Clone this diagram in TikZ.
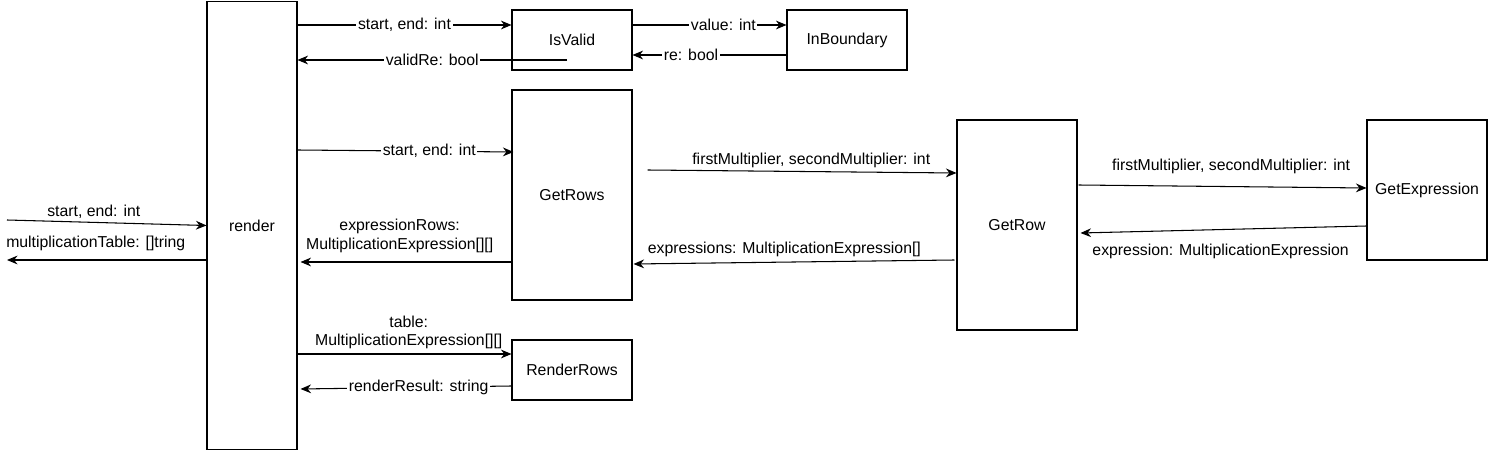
\documentclass[tikz,border=0pt]{standalone}
\usepackage{fontspec}
\setmainfont{Liberation Sans}
\usetikzlibrary{arrows.meta,calc}
\begin{document}
\begin{tikzpicture}[x=0.02cm,y=-0.02cm,
  box/.style={draw,line width=0.6pt,minimum width=2.4cm,minimum height=1.2cm,inner sep=0pt,font=\fontsize{9}{10.5}\selectfont},
  flow/.style={line width=0.6pt,-{Stealth[length=6pt,width=5pt]}},
  lbl/.style={font=\fontsize{9}{10.5}\selectfont,inner sep=1pt,align=center}]
\useasboundingbox (0,0) rectangle (1488,452);
\node[box,minimum width=1.8cm,minimum height=8.98cm] (render) at (252,225.5) {render};
\node[box] (IsValid) at (572,40) {IsValid};
\node[box] (InBoundary) at (847,40) {InBoundary};
\node[box,minimum height=4.2cm] (GetRows) at (572,195) {GetRows};
\node[box] (RenderRows) at (572,370) {RenderRows};
\node[box,minimum height=4.2cm] (GetRow) at (1017,225) {GetRow};
\node[box,minimum height=2.8cm] (GetExpression) at (1427,190) {GetExpression};
\coordinate (in) at (7,220);
\coordinate (out) at (7,260);
\coordinate (vr) at ($(IsValid.center)+(-5,20)$);
\coordinate (fm) at ($(GetRows.east)+(15,-25)$);
\draw[flow] (in) -- (render.west) node[lbl,pos=.435,above=1pt] {start, end: int};
\draw[flow] (render.west|-out) -- (out) node[lbl,pos=.555,above=4pt] {multiplicationTable: []tring};
\draw[flow] ($(render.east|-IsValid.west)+(0,-15)$) -- ($(IsValid.west)+(0,-15)$) node[lbl,midway,fill=white] {start, end: int};
\draw[flow] (vr) -- (render.east|-vr) node[lbl,midway,fill=white] {validRe: bool};
\draw[flow] ($(IsValid.east)+(0,-15)$) -- ($(InBoundary.west)+(0,-15)$) node[lbl,pos=.59,fill=white] {value: int};
\draw[flow] ($(InBoundary.west)+(0,15)$) -- ($(IsValid.east)+(0,15)$) node[lbl,pos=.62,fill=white] {re: bool};
\draw[flow] ($(render.east|-GetRows.west)+(0,-45)$) -- ($(GetRows.west)+(2,-43)$) node[lbl,pos=.61,fill=white] {start, end: int};
\draw[flow] ($(GetRows.west)+(0,67)$) -- ($(render.east|-GetRows.west)+(3,67)$) node[lbl,pos=.53,above=4pt] {expressionRows:\\MultiplicationExpression[][]};
\draw[flow] (fm) -- ($(GetRow.west)+(0,-52)$) node[lbl,pos=.53,above=1pt] {firstMultiplier, secondMultiplier: int};
\draw[flow] ($(GetRow.west)+(-2,35)$) -- ($(GetRows.east)+(1,69)$) node[lbl,pos=.53,above=2pt] {expressions: MultiplicationExpression[]};
\draw[flow] ($(GetRow.east)+(1,-40)$) -- ($(GetExpression.west)+(0,-2)$) node[lbl,pos=.53,above=6pt] {firstMultiplier, secondMultiplier: int};
\draw[flow] ($(GetExpression.west)+(0,36)$) -- ($(GetRow.east)+(3,8)$) node[lbl,pos=.51,below=7pt] {expression: MultiplicationExpression};
\draw[flow] ($(render.east|-RenderRows.west)+(0,-16)$) -- ($(RenderRows.west)+(0,-16)$) node[lbl,pos=.52,above=1.5pt] {table:\\MultiplicationExpression[][]};
\draw[flow] ($(RenderRows.west)+(0,16)$) -- ($(render.east|-RenderRows.west)+(3,19)$) node[lbl,pos=.44,fill=white] {renderResult: string};
\end{tikzpicture}
\end{document}
